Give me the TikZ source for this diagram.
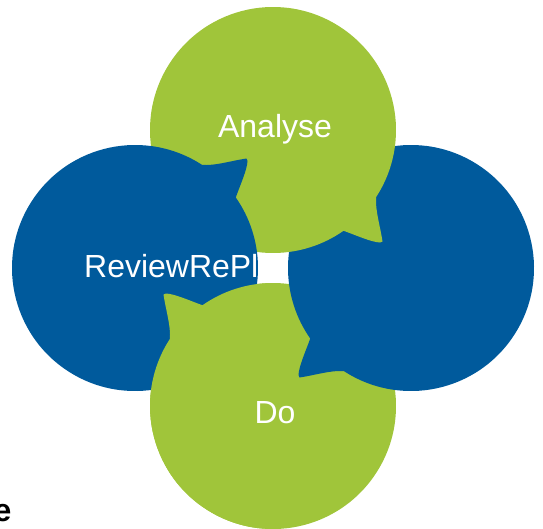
\documentclass[tikz,border=0pt]{standalone}
\usepackage{fontspec}
\setmainfont{Liberation Sans}
\usetikzlibrary{calc}

\definecolor{cyclegreen}{HTML}{A0C53A}
\definecolor{cycleblue}{HTML}{005A9C}

% one speech bubble: circle of radius 1.23 with its tail, turned by #1
\newcommand{\bubble}[2]{%
  \begin{scope}[rotate=#1]
    \fill[#2] (-1.38,0) ++(57:1.23) arc[start angle=57, end angle=395, radius=1.23]
      .. controls (-0.32,0.85) and (-0.26,0.98) .. (-0.255,1.07)
      -- (-0.265,1.095)
      .. controls (-0.43,1.07) and (-0.58,1.02) .. cycle;
  \end{scope}
}

\begin{document}
\begin{tikzpicture}[ringtext/.style={text=white, inner sep=0pt, font=\fontsize{9.1}{11}\selectfont}]
\useasboundingbox (-2.73,-2.60) rectangle (2.70,2.68);

% each tail lies over the next bubble round the ring
\bubble{-270}{cyclegreen}
\bubble{-180}{cycleblue}
\bubble{-90}{cyclegreen}
\bubble{0}{cycleblue}

% bottom bubble again, so its tail lies over the left one
\begin{scope}
  \clip (-2.8,-2.8) rectangle (0,0);
  \bubble{-270}{cyclegreen}
\end{scope}

\node[ringtext, anchor=base] (analyse) at (0.02,1.31) {Analyse};
\node[ringtext, anchor=base west] (review) at (-1.895,-0.09) {ReviewRePl};
\node[ringtext, anchor=base] (do) at (0.02,-1.55) {Do};

\node[inner sep=0pt, anchor=base east, font=\fontsize{9.1}{11}\selectfont\bfseries] (title) at (-2.61,-2.53) {e};
\end{tikzpicture}
\end{document}
